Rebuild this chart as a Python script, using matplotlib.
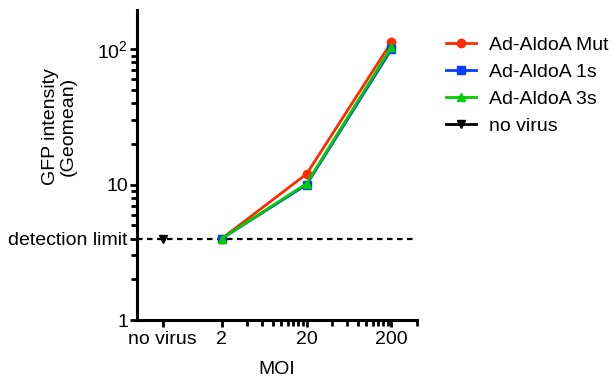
import numpy as np
import matplotlib
matplotlib.use("Agg")
import matplotlib.pyplot as plt
from matplotlib.lines import Line2D

plt.rcParams['font.family'] = ['Liberation Sans', 'DejaVu Sans']
plt.rcParams['font.size'] = 14

# data
moi = [2, 20, 200]
mut = [4.0, 12.0, 113.0]
aldo_1s = [4.0, 10.0, 100.0]
aldo_3s = [4.0, 10.2, 104.0]
no_virus_x = [0.4]
no_virus_y = [4.0]
detection_limit = 4.0

xticks = [0.4, 2, 20, 200]
xticklabels = ['no virus', '2', '20', '200']
xminor = [4, 6, 8, 10, 12, 14, 16, 18, 40, 60, 80, 100, 120, 140, 160, 180, 400]
yticks = [1, detection_limit, 10, 100]
yticklabels = ['1', 'detection limit', '10', r'$\mathregular{10^2}$']
yminor = [2, 3, 5, 6, 7, 8, 9, 20, 30, 40, 50, 60, 70, 80, 90]

red = '#ff2a00'
blue = '#0a3cff'
green = '#00cc00'

fig = plt.figure(figsize=(6.14, 3.85), dpi=100)
ax = fig.add_axes([0.2231, 0.1688, 0.456, 0.805])

ax.set_xscale('log')
ax.set_yscale('log')
ax.set_xlim(0.2, 400)
ax.set_ylim(1, 195)

ax.axhline(detection_limit, color='black', lw=1.6, ls=(0, (2.5, 2)), zorder=1, clip_on=False)

ax.plot(moi, mut, color=red, lw=2, marker='o', ms=6, label='Ad-AldoA Mut', zorder=3)
ax.plot(moi, aldo_1s, color=blue, lw=2, marker='s', ms=6, label='Ad-AldoA 1s', zorder=4)
ax.plot(moi, aldo_3s, color=green, lw=2, marker='^', ms=6, label='Ad-AldoA 3s', zorder=5)
ax.plot(no_virus_x, no_virus_y, color='black', lw=2, marker='v', ms=6, ls='none',
        label='no virus', zorder=5)

ax.set_xticks(xticks)
ax.set_xticklabels(xticklabels)
ax.set_xticks(xminor, minor=True)
ax.set_xticklabels([], minor=True)
ax.set_yticks(yticks)
ax.set_yticklabels(yticklabels)
ax.set_yticks(yminor, minor=True)
ax.set_yticklabels([], minor=True)

for s in ['top', 'right']:
    ax.spines[s].set_visible(False)
for s in ['left', 'bottom']:
    ax.spines[s].set_linewidth(2.2)
ax.tick_params(which='major', length=5, width=2, direction='out', pad=1.5)
ax.tick_params(which='minor', length=4, width=2, direction='out')
ax.tick_params(axis='x', which='major', pad=3)

ax.set_xlabel('MOI', labelpad=9)
ax.set_ylabel('GFP intensity\n(Geomean)', linespacing=1.05)
ax.yaxis.set_label_coords(-0.215, 0.623)

handles = [
    Line2D([], [], color=red, lw=2, marker='o', ms=6),
    Line2D([], [], color=blue, lw=2, marker='s', ms=6),
    Line2D([], [], color=green, lw=2, marker='^', ms=6),
    Line2D([], [], color='black', lw=2, marker='v', ms=6),
]
labels = ['Ad-AldoA Mut', 'Ad-AldoA 1s', 'Ad-AldoA 3s', 'no virus']
fig.legend(handles, labels, loc='upper left', bbox_to_anchor=(0.714, 0.925),
           frameon=False, handlelength=1.55, handletextpad=0.65, labelspacing=0.48,
           borderaxespad=0, fontsize=14)

fig.savefig('out.png', dpi=100)
